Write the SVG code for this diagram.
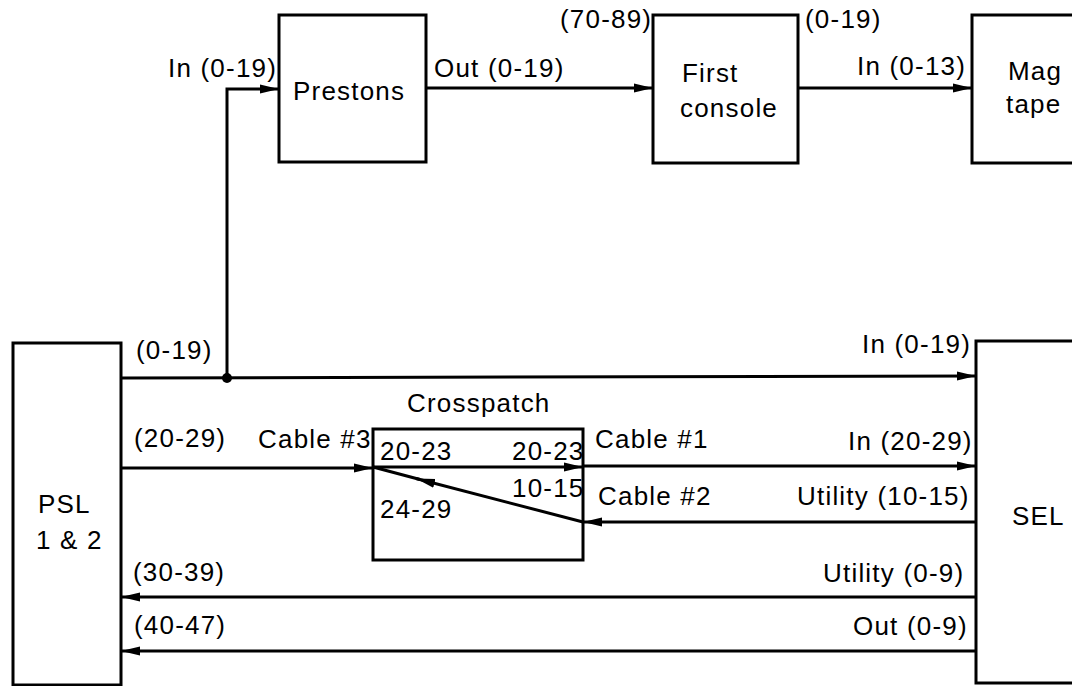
<svg xmlns="http://www.w3.org/2000/svg" width="1072" height="686" viewBox="0 0 1072 686">
<style>
.box{fill:#fff;stroke:#000;stroke-width:3}
.ln{fill:none;stroke:#000;stroke-width:3}
text{font-family:"Liberation Sans",Arial,sans-serif;font-size:26px;letter-spacing:1.2px;fill:#000}
</style>
<defs>
<marker id="ah" markerUnits="userSpaceOnUse" markerWidth="20" markerHeight="10" refX="19" refY="5" orient="auto">
<path d="M0,0.5 L19,5 L0,9.5 z" fill="#000"/>
</marker>
</defs>
<rect width="1072" height="686" fill="#fff"/>
<g id="prestons">
<rect class="box" x="279" y="15" width="147" height="147"/>
<text x="293" y="100">Prestons</text>
</g>
<g id="first-console">
<rect class="box" x="653" y="15" width="145" height="148"/>
<text x="682" y="82">First</text>
<text x="680" y="117">console</text>
</g>
<g id="mag-tape">
<rect class="box" x="972" y="15" width="120" height="148"/>
<text x="1008" y="80">Mag</text>
<text x="1006" y="113">tape</text>
</g>
<g id="psl">
<rect class="box" x="13" y="343" width="108" height="342"/>
<text x="38" y="513">PSL</text>
<text x="36" y="549">1 &amp; 2</text>
</g>
<g id="sel">
<rect class="box" x="976" y="341" width="120" height="342"/>
<text x="1012" y="525">SEL</text>
</g>
<g id="crosspatch">
<rect class="box" x="373" y="429" width="210" height="131"/>
<text x="407" y="412">Crosspatch</text>
<text x="380" y="460">20-23</text>
<text x="512" y="460">20-23</text>
<text x="512" y="497">10-15</text>
<text x="380" y="518">24-29</text>
</g>
<g id="connectors">
<path class="ln" d="M426,88 H653" marker-end="url(#ah)"/>
<path class="ln" d="M798,88 H972" marker-end="url(#ah)"/>
<path class="ln" d="M227,378 V89 H279" marker-end="url(#ah)"/>
<path class="ln" d="M121,378 L976,376" marker-end="url(#ah)"/>
<circle cx="227" cy="378" r="5" fill="#000"/>
<path class="ln" d="M121,468 H373" marker-end="url(#ah)"/>
<path class="ln" d="M373,467 H583" marker-end="url(#ah)"/>
<path class="ln" d="M583,466 H976" marker-end="url(#ah)"/>
<path class="ln" d="M976,522 H583" marker-end="url(#ah)"/>
<path class="ln" d="M583,522 L416,478.5" marker-end="url(#ah)"/>
<path class="ln" d="M420,479.5 L373,467"/>
<path class="ln" d="M976,597 H121" marker-end="url(#ah)"/>
<path class="ln" d="M976,651 H121" marker-end="url(#ah)"/>
</g>
<g id="labels">
<text x="168" y="77">In (0-19)</text>
<text x="434" y="77">Out (0-19)</text>
<text x="560" y="28">(70-89)</text>
<text x="805" y="28">(0-19)</text>
<text x="857" y="75">In (0-13)</text>
<text x="136" y="359">(0-19)</text>
<text x="134" y="447">(20-29)</text>
<text x="258" y="448">Cable #3</text>
<text x="133" y="581">(30-39)</text>
<text x="134" y="634">(40-47)</text>
<text x="595" y="448">Cable #1</text>
<text x="598" y="505">Cable #2</text>
<text x="862" y="353">In (0-19)</text>
<text x="848" y="450">In (20-29)</text>
<text x="797" y="505">Utility (10-15)</text>
<text x="823" y="582">Utility (0-9)</text>
<text x="853" y="635">Out (0-9)</text>
</g>
</svg>
